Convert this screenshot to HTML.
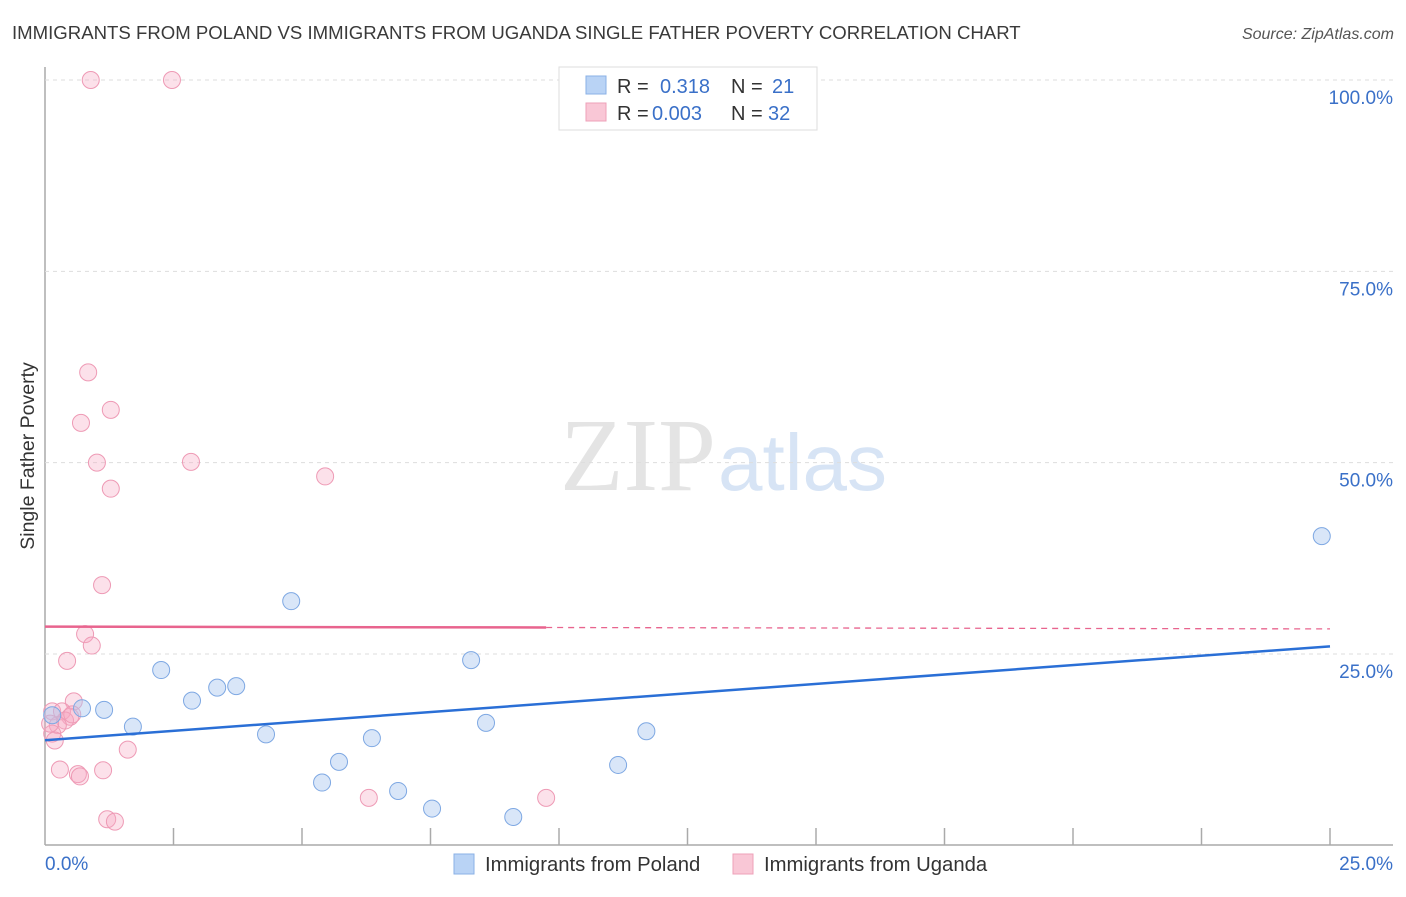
<!DOCTYPE html>
<html><head><meta charset="utf-8"><style>
body{margin:0;background:#fff;font-family:"Liberation Sans",sans-serif}
svg text{font-family:"Liberation Sans",sans-serif}
</style></head><body>
<svg id="c" width="1406" height="892">
<text x="12" y="39" font-size="18.6" fill="#3a3a3a">IMMIGRANTS FROM POLAND VS IMMIGRANTS FROM UGANDA SINGLE FATHER POVERTY CORRELATION CHART</text>
<text x="1394" y="39" font-size="16" fill="#555" font-style="italic" text-anchor="end">Source: ZipAtlas.com</text>
<text x="716" y="490" font-size="104" fill="#e4e4e4" text-anchor="end" style="font-family:'Liberation Serif',serif">ZIP</text>
<text x="718" y="490" font-size="80" fill="#d7e4f5">atlas</text>
<text transform="translate(34,456) rotate(-90)" font-size="19.5" fill="#333" text-anchor="middle">Single Father Poverty</text>
<g id="grid"></g><g id="pts"></g><g id="lines"></g>
<g>
<rect x="559" y="67" width="258" height="63" fill="#fff" stroke="#ddd"/>
<rect x="586" y="76" width="20" height="18" fill="#b9d3f5" stroke="#8ab0e6"/>
<rect x="586" y="103" width="20" height="18" fill="#f9c7d6" stroke="#eea0b8"/>
<text x="617" y="93" font-size="20" fill="#333">R = </text><text x="660" y="93" font-size="20" fill="#3a70c8">0.318</text>
<text x="731" y="93" font-size="20" fill="#333">N = </text><text x="772" y="93" font-size="20" fill="#3a70c8">21</text>
<text x="617" y="120" font-size="20" fill="#333">R = </text><text x="652" y="120" font-size="20" fill="#3a70c8">0.003</text>
<text x="731" y="120" font-size="20" fill="#333">N = </text><text x="768" y="120" font-size="20" fill="#3a70c8">32</text>
</g>
<g>
<rect x="454" y="854" width="20" height="20" fill="#b9d3f5" stroke="#8ab0e6"/>
<text x="485" y="871" font-size="20.3" fill="#333">Immigrants from Poland</text>
<rect x="733" y="854" width="20" height="20" fill="#f9c7d6" stroke="#eea0b8"/>
<text x="764" y="871" font-size="20.3" fill="#333">Immigrants from Uganda</text>
</g>
</svg>
<script>
const polandX=[0.14,0.72,1.15,1.71,2.26,2.86,3.35,3.72,4.30,4.79,5.39,5.72,6.36,6.87,7.53,8.29,8.58,9.11,11.15,11.70,24.84];
const polandY=[17.0,17.9,17.7,15.5,22.9,18.9,20.6,20.8,14.5,31.9,8.2,10.9,14.0,7.1,4.8,24.2,16.0,3.7,10.5,14.9,40.4];
const ugandaX=[0.89,2.47,0.84,1.28,0.70,1.01,2.84,1.28,5.45,1.11,0.78,0.91,0.43,0.56,0.14,0.33,0.49,0.39,0.25,0.14,0.19,0.29,0.64,0.68,1.13,1.61,6.30,9.75,1.21,1.36,0.10,0.53];
const ugandaY=[100,100,61.8,56.9,55.2,50.0,50.1,46.6,48.2,34.0,27.6,26.1,24.1,18.8,17.5,17.5,16.8,16.3,15.7,14.6,13.7,9.9,9.3,9.0,9.8,12.5,6.2,6.2,3.4,3.1,15.9,17.1];
const yTicks=[25,50,75,100];
const yTickLabels=["25.0%","50.0%","75.0%","100.0%"];
const xTicks=[2.5,5,7.5,10,12.5,15,17.5,20,22.5,25];
const xTickLabels=["0.0%","25.0%"];
const NS="http://www.w3.org/2000/svg";
const sx=v=>45+v*51.4, sy=v=>845.3-v*7.653;
function mk(tag,attrs,parent){const e=document.createElementNS(NS,tag);for(const k in attrs)e.setAttribute(k,attrs[k]);document.getElementById(parent).appendChild(e);return e;}
let e;
e=mk('line',{x1:45,y1:67,x2:45,y2:845,stroke:'#aaa','stroke-width':1.5},'grid');


e=mk('line',{x1:45,y1:845,x2:1393,y2:845,stroke:'#aaa','stroke-width':1.5},'grid');


yTicks.forEach((t,i)=>{
 e=mk('line',{x1:45,y1:sy(t),x2:1393,y2:sy(t),stroke:'#ddd','stroke-dasharray':'4,4'},'grid');
 
 
 e=mk('text',{x:1393,y:sy(t)+24,'font-size':19,fill:'#3a70c8','text-anchor':'end'},'grid');e.textContent=yTickLabels[i];
 
 
});
xTicks.forEach(t=>{
 e=mk('line',{x1:sx(t),y1:828,x2:sx(t),y2:845,stroke:'#aaa','stroke-width':1.5},'grid');
 
 
});
e=mk('text',{x:45,y:870,'font-size':19,fill:'#3a70c8'},'grid');e.textContent=xTickLabels[0];


e=mk('text',{x:1393,y:870,'font-size':19,fill:'#3a70c8','text-anchor':'end'},'grid');e.textContent=xTickLabels[1];


ugandaX.forEach((x,i)=>{
 e=mk('circle',{cx:sx(x),cy:sy(ugandaY[i]),r:8.5,fill:'rgba(246,170,195,0.35)',stroke:'#ee9ab5','stroke-width':1},'pts');
 
 
});
polandX.forEach((x,i)=>{
 e=mk('circle',{cx:sx(x),cy:sy(polandY[i]),r:8.5,fill:'rgba(170,200,240,0.45)',stroke:'#7ea8e3','stroke-width':1},'pts');
 
 
});
function fit(X,Y){const n=X.length,mx=X.reduce((a,b)=>a+b)/n,my=Y.reduce((a,b)=>a+b)/n;let sxy=0,sxx=0;X.forEach((x,i)=>{sxy+=(x-mx)*(Y[i]-my);sxx+=(x-mx)**2});const b=sxy/sxx;return[my-b*mx,b];}
const [pa,pb]=fit(polandX,polandY);
e=mk('line',{x1:sx(0),y1:sy(pa),x2:sx(25),y2:sy(pa+pb*25),stroke:'#2a6fd6','stroke-width':2.5},'lines');


const [ua,ub]=fit(ugandaX,ugandaY);const um=Math.max(...ugandaX);
e=mk('line',{x1:sx(0),y1:sy(ua),x2:sx(um),y2:sy(ua+ub*um),stroke:'#e8648e','stroke-width':2.5},'lines');


e=mk('line',{x1:sx(um),y1:sy(ua+ub*um),x2:sx(25),y2:sy(ua+ub*25),stroke:'#e8648e','stroke-width':1.3,'stroke-dasharray':'6,5'},'lines');


</script>
</body></html>
